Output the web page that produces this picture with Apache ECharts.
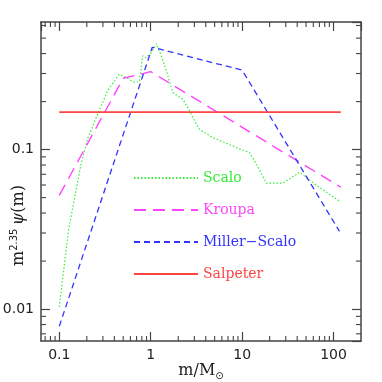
<!DOCTYPE html>
<html>
<head>
<meta charset="utf-8">
<script src="https://cdn.jsdelivr.net/npm/echarts@6/dist/echarts.min.js"></script>
<style>
  html, body { margin: 0; padding: 0; background: #fff; }
  #main { width: 382px; height: 382px; }
</style>
</head>
<body>
<div id="main"></div>
<script>
// data (mass in solar masses, value = m^2.35 psi(m))
var scaloMass = [0.1, 0.126, 0.173, 0.204, 0.263, 0.338, 0.454, 0.538, 0.662, 0.751, 0.818, 0.89, 1.01, 1.16, 1.41, 1.74, 2.24, 2.54, 3.01, 3.41, 4.77, 9.35, 12.0, 14.3, 18.4, 27.9, 42.6, 64.9, 120]
var scaloVal = [0.0103, 0.0312, 0.0814, 0.117, 0.167, 0.234, 0.297, 0.283, 0.264, 0.267, 0.387, 0.377, 0.405, 0.461, 0.344, 0.228, 0.207, 0.184, 0.152, 0.134, 0.119, 0.101, 0.096, 0.0814, 0.0616, 0.0616, 0.0721, 0.0596, 0.047]
var kroupaMass = [0.1, 0.5, 1.0, 120]
var kroupaVal = [0.0516, 0.28, 0.308, 0.0581]
var millerMass = [0.1, 1.04, 10, 116]
var millerVal = [0.0078, 0.438, 0.315, 0.0307]
var salpeterMass = [0.1, 120]
var salpeterVal = [0.172, 0.172]

// tick values
var xMajor = [0.1, 1, 10, 100]
var yMajor = [0.01, 0.1]
var xMinor = [0.07, 0.08, 0.09, 0.2, 0.3, 0.4, 0.5, 0.6, 0.7, 0.8, 0.9, 2, 3, 4, 5, 6, 7, 8, 9, 20, 30, 40, 50, 60, 70, 80, 90]
var yMinor = [0.007, 0.008, 0.009, 0.02, 0.03, 0.04, 0.05, 0.06, 0.07, 0.08, 0.09, 0.2, 0.3, 0.4, 0.5, 0.6]

var xMin = Math.pow(10, -1.2)
var xMax = Math.pow(10, 2.3)
var yMin = Math.pow(10, -2.2)
var yMax = Math.pow(10, -0.2)

var frameColor = '#444'

function pairs(xs, ys) {
  return xs.map(function (x, i) { return [x, ys[i]] })
}

function decadeLabel(list) {
  return function (v) {
    for (var i = 0; i < list.length; i++) {
      if (Math.abs(Math.log10(v) - Math.log10(list[i])) < 0.01) return String(list[i])
    }
    return ''
  }
}

function logAxis(min, max, list, pos, showLabel) {
  return {
    type: 'log',
    position: pos,
    min: min,
    max: max,
    splitLine: { show: false },
    axisLine: { show: true, lineStyle: { color: frameColor, width: 1.5 } },
    axisTick: { show: true, inside: true, length: 9, lineStyle: { color: frameColor, width: 1.2 } },
    axisLabel: {
      show: showLabel,
      showMinLabel: false,
      showMaxLabel: false,
      formatter: decadeLabel(list),
      fontFamily: 'DejaVu Sans',
      fontSize: 14,
      color: '#222',
      margin: 7
    }
  }
}

var bottomX = logAxis(xMin, xMax, xMajor, 'bottom', true)
bottomX.name = '{a|m/M}{s|⊙}'
bottomX.nameLocation = 'middle'
bottomX.nameGap = 20
bottomX.nameMoveOverlap = false
bottomX.nameTextStyle = {
  rich: {
    a: { fontFamily: 'DejaVu Serif', fontSize: 16, color: '#222', lineHeight: 20 },
    s: { fontFamily: 'DejaVu Sans', fontSize: 10, color: '#222', verticalAlign: 'bottom', lineHeight: 12 }
  }
}

// y title sits below the middle of the axis, so pad its upper side
var leftY = logAxis(yMin, yMax, yMajor, 'left', true)
leftY.name = '{a|m}{s|2.35} {b|ψ}{a|(m)}'
leftY.nameLocation = 'middle'
leftY.nameGap = 12
leftY.nameMoveOverlap = false
leftY.nameTextStyle = {
  padding: [0, 88, 0, 0],
  rich: {
    a: { fontFamily: 'DejaVu Serif', fontSize: 16, color: '#222', lineHeight: 20 },
    b: { fontFamily: 'DejaVu Serif', fontStyle: 'italic', fontSize: 16, color: '#222', lineHeight: 20 },
    s: { fontFamily: 'DejaVu Sans', fontSize: 10, color: '#222', verticalAlign: 'top', lineHeight: 12 }
  }
}

// minor ticks on all four sides of the frame
function minorTicks(vertical) {
  return function (params, api) {
    var cs = params.coordSys
    var p = api.coord([api.value(0), api.value(1)])
    var len = 5
    var st = { stroke: frameColor, lineWidth: 1.1 }
    if (!vertical) {
      if (p[0] < cs.x || p[0] > cs.x + cs.width) return
      return {
        type: 'group',
        children: [
          { type: 'line', shape: { x1: p[0], y1: cs.y + cs.height, x2: p[0], y2: cs.y + cs.height - len }, style: st },
          { type: 'line', shape: { x1: p[0], y1: cs.y, x2: p[0], y2: cs.y + len }, style: st }
        ]
      }
    }
    if (p[1] < cs.y || p[1] > cs.y + cs.height) return
    return {
      type: 'group',
      children: [
        { type: 'line', shape: { x1: cs.x, y1: p[1], x2: cs.x + len, y2: p[1] }, style: st },
        { type: 'line', shape: { x1: cs.x + cs.width, y1: p[1], x2: cs.x + cs.width - len, y2: p[1] }, style: st }
      ]
    }
  }
}

var colors = { scalo: '#33ee33', kroupa: '#ff44ff', miller: '#3333ff', salpeter: '#ff4444' }
var legendFont = { fontFamily: 'DejaVu Serif', fontSize: 14, lineHeight: 14 }

var chart = echarts.init(document.getElementById('main'))
var option = {
  animation: false,
  backgroundColor: '#fff',
  grid: { left: 41, right: 21, top: 22, bottom: 41, containLabel: false, outerBoundsMode: 'none' },
  xAxis: [bottomX, logAxis(xMin, xMax, xMajor, 'top', false)],
  yAxis: [leftY, logAxis(yMin, yMax, yMajor, 'right', false)],
  legend: {
    orient: 'vertical',
    left: 133,
    top: 171,
    padding: 0,
    itemWidth: 64,
    itemHeight: 14,
    itemGap: 18,
    itemStyle: { opacity: 0 },
    data: [
      { name: 'Scalo', textStyle: Object.assign({ color: colors.scalo }, legendFont) },
      { name: 'Kroupa', textStyle: Object.assign({ color: colors.kroupa }, legendFont) },
      { name: 'Miller−Scalo', textStyle: Object.assign({ color: colors.miller }, legendFont) },
      { name: 'Salpeter', textStyle: Object.assign({ color: colors.salpeter }, legendFont) }
    ]
  },
  series: [
    {
      name: 'Scalo', type: 'line', symbol: 'none',
      data: pairs(scaloMass, scaloVal),
      lineStyle: { color: colors.scalo, width: 1.2, type: [1.5, 2] },
      itemStyle: { color: colors.scalo }
    },
    {
      name: 'Kroupa', type: 'line', symbol: 'none',
      data: pairs(kroupaMass, kroupaVal),
      lineStyle: { color: colors.kroupa, width: 1.4, type: [12, 7] },
      itemStyle: { color: colors.kroupa }
    },
    {
      name: 'Miller−Scalo', type: 'line', symbol: 'none',
      data: pairs(millerMass, millerVal),
      lineStyle: { color: colors.miller, width: 1.3, type: [6, 4] },
      itemStyle: { color: colors.miller }
    },
    {
      name: 'Salpeter', type: 'line', symbol: 'none',
      data: pairs(salpeterMass, salpeterVal),
      lineStyle: { color: colors.salpeter, width: 1.8 },
      itemStyle: { color: colors.salpeter }
    },
    {
      type: 'custom', silent: true,
      renderItem: minorTicks(false),
      data: xMinor.map(function (v) { return [v, 0.1] })
    },
    {
      type: 'custom', silent: true,
      renderItem: minorTicks(true),
      data: yMinor.map(function (v) { return [1, v] })
    }
  ]
}
chart.setOption(option)
</script>
</body>
</html>
